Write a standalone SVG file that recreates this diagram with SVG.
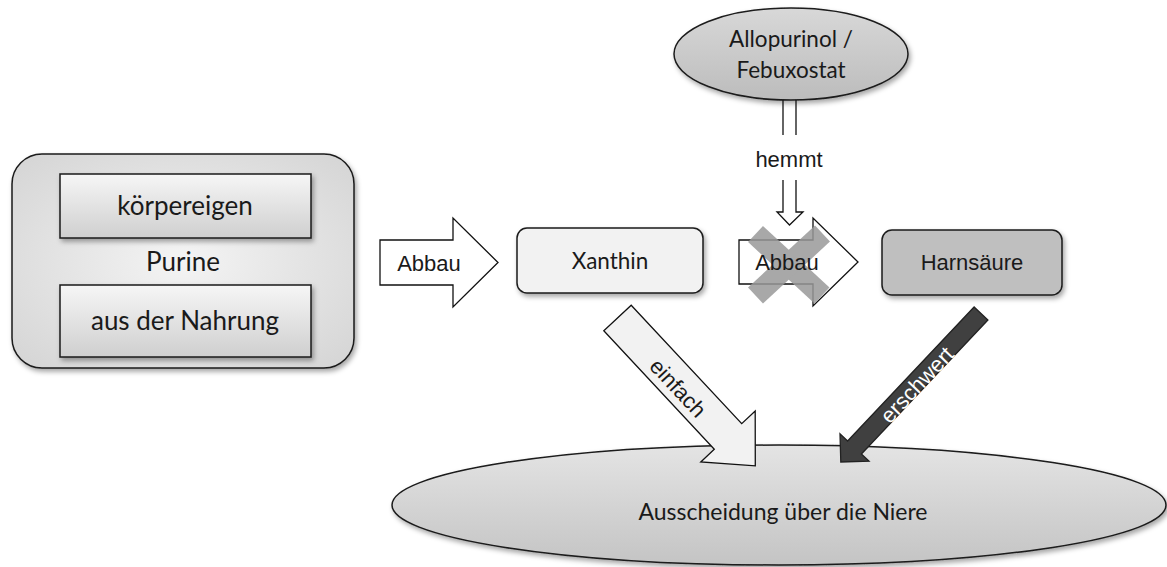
<svg xmlns="http://www.w3.org/2000/svg" width="1167" height="567" viewBox="0 0 1167 567">
<style>
.cal{font-family:Lato,"Open Sans",sans-serif;fill:#1a1a1a}
.ari{font-family:"Liberation Sans",Arial,sans-serif;font-size:22px;fill:#1a1a1a}
.box{stroke:#1a1a1a;stroke-width:1.5}
.arr{fill:#ffffff;stroke:#111;stroke-width:1.3;stroke-linejoin:miter}
</style>
<defs>
<filter id="sh" x="-10%" y="-10%" width="130%" height="140%">
<feDropShadow dx="2" dy="3" stdDeviation="2.5" flood-color="#000" flood-opacity="0.35"/>
</filter>
<radialGradient id="gOuter" cx="0.5" cy="0.5" r="0.7">
<stop offset="0" stop-color="#f4f4f4"/>
<stop offset="1" stop-color="#d4d4d4"/>
</radialGradient>
<linearGradient id="gInner" x1="0" y1="0" x2="0" y2="1">
<stop offset="0" stop-color="#f6f6f6"/>
<stop offset="1" stop-color="#cfcfcf"/>
</linearGradient>
<linearGradient id="gEll" x1="0" y1="0" x2="0" y2="1">
<stop offset="0" stop-color="#e4e4e4"/>
<stop offset="1" stop-color="#c4c4c4"/>
</linearGradient>
<linearGradient id="gEll2" x1="0" y1="0" x2="0" y2="1">
<stop offset="0" stop-color="#d8d8d8"/>
<stop offset="1" stop-color="#bcbcbc"/>
</linearGradient>
</defs>
<rect width="1167" height="567" fill="#ffffff"/>

<g id="purine">
<rect class="box" x="12" y="154" width="342" height="214" rx="30" fill="url(#gOuter)" filter="url(#sh)"/>
<text class="cal" x="183" y="271" font-size="26" text-anchor="middle">Purine</text>
</g>
<g id="koerpereigen">
<rect class="box" x="60" y="174" width="251" height="64" fill="url(#gInner)" filter="url(#sh)"/>
<text class="cal" x="185" y="215" font-size="26" text-anchor="middle">körpereigen</text>
</g>
<g id="nahrung">
<rect class="box" x="60" y="285" width="251" height="72" fill="url(#gInner)" filter="url(#sh)"/>
<text class="cal" x="185" y="330" font-size="26" text-anchor="middle">aus der Nahrung</text>
</g>

<g id="niere">
<ellipse class="box" cx="779" cy="505" rx="387" ry="60" fill="url(#gEll)" filter="url(#sh)"/>
<text class="cal" x="783" y="520" font-size="23" text-anchor="middle">Ausscheidung über die Niere</text>
</g>

<g id="xanthin">
<rect class="box" x="517" y="228" width="186" height="65" rx="10" fill="#f2f2f2" filter="url(#sh)"/>
<text class="cal" x="610" y="269" font-size="22.5" text-anchor="middle">Xanthin</text>
</g>

<g id="harnsaeure">
<rect class="box" x="882" y="230" width="180" height="65" rx="10" fill="#bfbfbf" filter="url(#sh)"/>
<text class="ari" x="972" y="270" text-anchor="middle">Harnsäure</text>
</g>

<g id="allopurinol">
<ellipse class="box" cx="791" cy="54" rx="117" ry="46" fill="url(#gEll2)" filter="url(#sh)"/>
<text class="cal" x="791" y="47" font-size="22.5" text-anchor="middle">Allopurinol /</text>
<text class="cal" x="791" y="78" font-size="22.5" text-anchor="middle">Febuxostat</text>
</g>

<g id="connectors">
<g id="abbau1">
<path class="arr" d="M380,240 H453 V218 L498,262.5 L453,307 V285 H380 Z"/>
<text class="ari" x="429" y="271" text-anchor="middle">Abbau</text>
</g>
<g id="abbau2">
<path class="arr" d="M739,240 H813 V218 L858,262 L813,306 V284 H739 Z"/>
<g stroke="#999" stroke-width="22" stroke-linecap="butt" opacity="0.85">
<line x1="755.5" y1="234" x2="822" y2="295.5"/>
<line x1="822.5" y1="233.5" x2="755.5" y2="295.5"/>
</g>
<text class="ari" x="787" y="270" text-anchor="middle">Abbau</text>
</g>
<g id="hemmt">
<line x1="783" y1="100" x2="783" y2="135" stroke="#111" stroke-width="1.3"/>
<line x1="796" y1="100" x2="796" y2="135" stroke="#111" stroke-width="1.3"/>
<text class="ari" x="789" y="167" text-anchor="middle">hemmt</text>
<path class="arr" d="M783,180 V212 H777 L789.5,225 L803,212 H796 V180"/>
</g>
<g id="einfach">
<polygon points="631.2,305.2 741.7,423.7 755.2,411.1 755.3,465.8 700.8,461.9 714.3,449.3 603.8,330.8" fill="#f2f2f2" stroke="#111" stroke-width="1.3"/>
<text class="ari" transform="translate(678,388) rotate(47)" text-anchor="middle" dominant-baseline="central">einfach</text>
</g>
<g id="erschwert">
<polygon points="987.9,320 861.4,454 869,461.2 840.8,462 840,433.8 847.6,441 974.1,307" fill="#404040" stroke="#222" stroke-width="1.3"/>
<text class="ari" transform="translate(917,385) rotate(-46.6)" text-anchor="middle" dominant-baseline="central" style="fill:#ffffff">erschwert</text>
</g>
</g>
</svg>
